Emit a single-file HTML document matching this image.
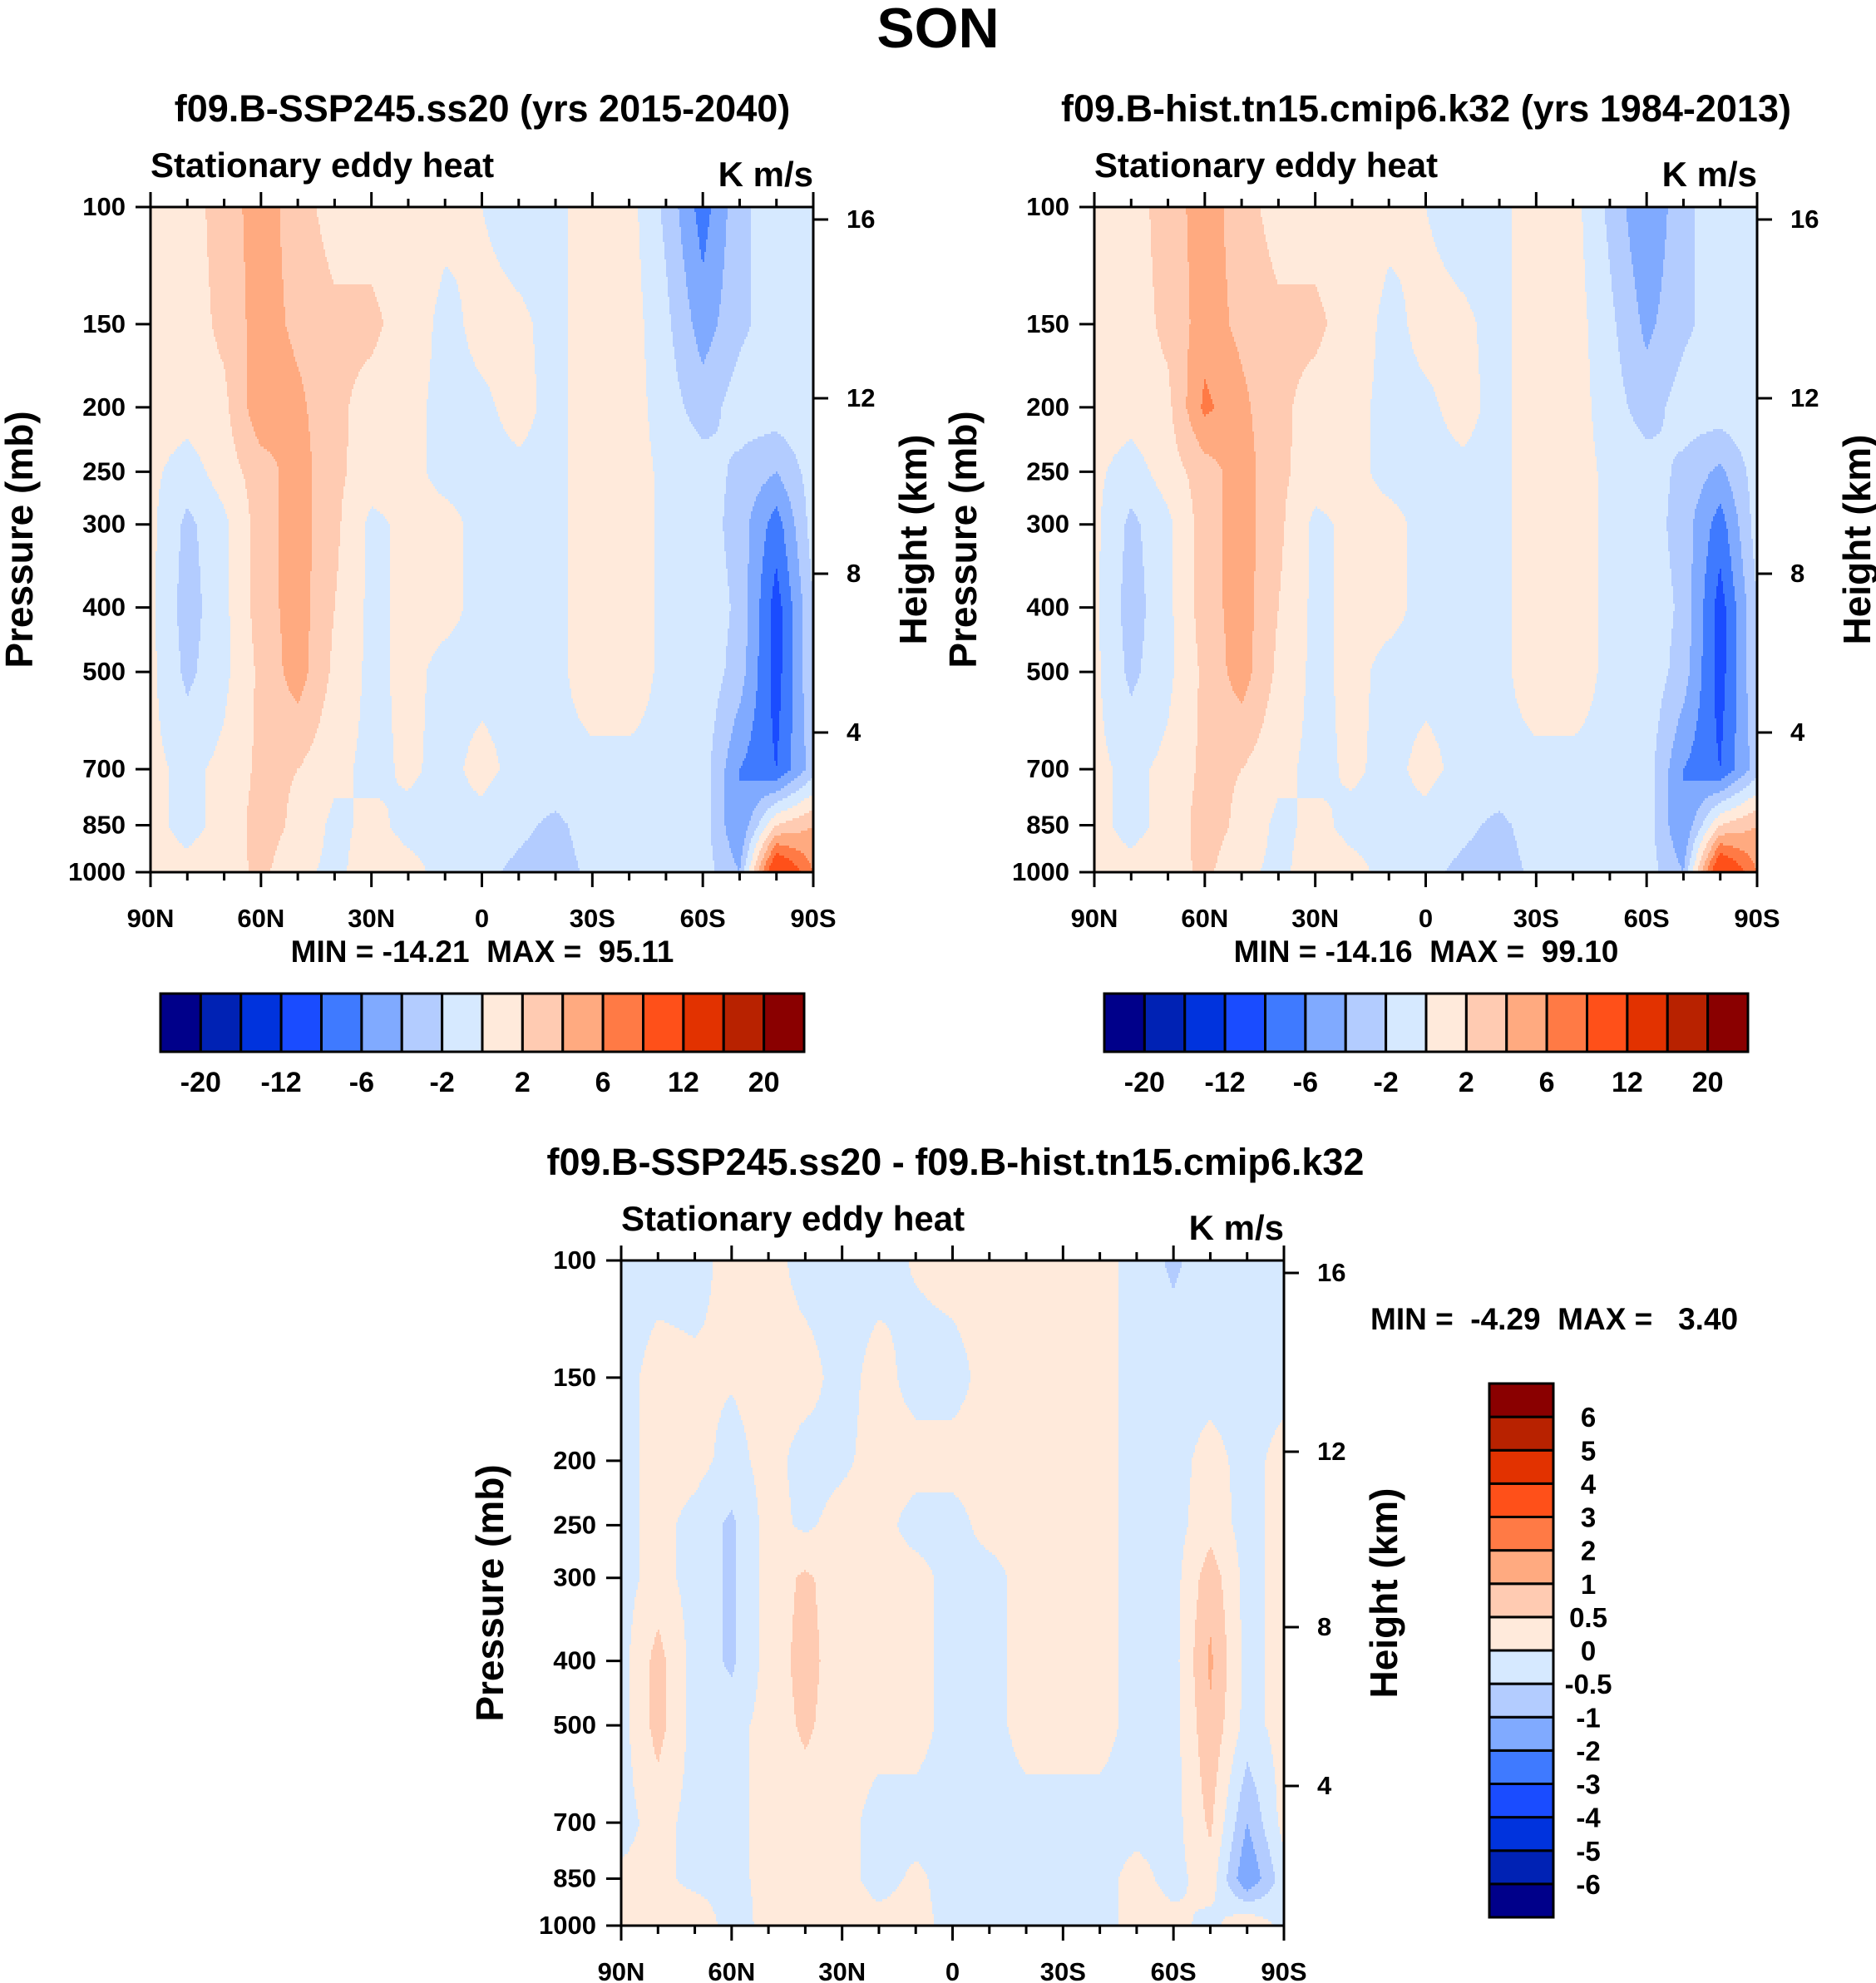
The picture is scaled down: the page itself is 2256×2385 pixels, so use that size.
<!DOCTYPE html>
<html><head><meta charset="utf-8">
<style>
html,body{margin:0;padding:0;background:#fff;}
svg{display:block;}
text{font-family:"Liberation Sans",Arial,sans-serif;font-weight:bold;fill:#000;white-space:pre;}
</style></head>
<body>
<svg id="fig" xmlns="http://www.w3.org/2000/svg" width="2256" height="2385" viewBox="0 0 2256 2385">
<rect x="0" y="0" width="2256" height="2385" fill="#fff"/>
<text x="1128" y="57" font-size="68" text-anchor="middle">SON</text>
<text x="580" y="146" font-size="45" text-anchor="middle">f09.B-SSP245.ss20 (yrs 2015-2040)</text>
<text x="1715" y="146" font-size="45" text-anchor="middle">f09.B-hist.tn15.cmip6.k32 (yrs 1984-2013)</text>
<text x="1149" y="1413" font-size="45" text-anchor="middle">f09.B-SSP245.ss20 - f09.B-hist.tn15.cmip6.k32</text>
<g id="p1"></g>
<g id="p2"></g>
<g id="p3"></g>
</svg>
<script>
const lats=[90,80,70,60,50,40,30,20,10,0,-10,-20,-30,-40,-50,-60,-70,-80,-90];
const latLabels=["90N","60N","30N","0","30S","60S","90S"];
const latTicks=[90,60,30,0,-30,-60,-90];
const plevs=[100,150,200,250,300,400,500,700,850,1000];
const presLabels=["100","150","200","250","300","400","500","700","850","1000"];
const heightLabels=["16","12","8","4"];
const heightOffsets=[15,230,441,632];
const fieldA=[
[1,1,3,5,3,1,1,1,0.5,0,-0.8,-0.5,1,0.8,-2.5,-7,-2.5,-0.8,-0.5],
[1,1,2.5,5,3.5,2.5,2.5,1,-0.5,0.5,0.3,-0.5,1,1,-1.5,-5,-2.5,-0.8,-0.5],
[1,1,1.5,5.5,4.5,2.5,1.2,0.5,-0.5,-0.3,0.5,-0.5,1,1,-1,-3,-1,-0.8,-0.5],
[0.5,-1,1,3,5,2.5,1,0.5,-0.5,-0.5,-0.3,-0.5,1,1,-0.5,-1,-2.5,-4,-1],
[0.5,-2.5,-0.5,3,5,2.5,-0.5,0.5,0.5,-0.5,-0.5,-0.5,1,1,-0.5,-0.8,-3,-7,-1],
[0.5,-3,-0.5,3,5,2,-0.5,0.5,0.5,-0.5,-0.5,-0.5,1,1,-0.5,-0.5,-2.5,-9,-2],
[0.5,-2.5,-0.5,2.5,5,1.5,-0.5,0.5,-0.5,-0.5,-0.5,-0.5,1,1,-0.5,-0.5,-3,-9,-2],
[0.5,-0.5,0.5,2.5,2,0.5,-0.5,0.3,-0.5,0.5,-0.5,-0.5,-0.5,-0.5,-0.5,-1,-6,-8,-3],
[0.5,-0.5,0.5,3,1.5,-0.5,0.5,-0.5,-0.5,-0.5,-1.5,-2.5,-1,-0.5,-0.5,-1,-6,2,4],
[0.5,0.5,1,2.5,0.5,-0.5,1,0.5,-0.5,-1.5,-2.5,-3,-1.5,-0.5,-0.5,-1,-4,12,6]];
const fieldB=[
[1,1,3,5,3,1,1,1,0.5,0,-0.8,-0.5,1,0.8,-2.5,-6,-2.5,-0.8,-0.5],
[1,1,2.5,5,3.5,2.5,2.5,1,-0.5,0.5,0.3,-0.5,1,1,-1.5,-4.5,-2.5,-0.8,-0.5],
[1,1,1.5,6.5,4.5,2.5,1.2,0.5,-0.5,-0.3,0.5,-0.5,1,1,-1,-3,-1,-0.8,-0.5],
[0.5,-1,1,3,5,2.5,1,0.5,-0.5,-0.5,-0.3,-0.5,1,1,-0.5,-1,-2.5,-4.5,-1],
[0.5,-2.5,-0.5,3,5,2.5,-0.5,0.5,0.5,-0.5,-0.5,-0.5,1,1,-0.5,-0.8,-3,-7,-1],
[0.5,-3,-0.5,3,5,2,-0.5,0.5,0.5,-0.5,-0.5,-0.5,1,1,-0.5,-0.5,-2.5,-9,-2],
[0.5,-2.5,-0.5,2.5,5,1.5,-0.5,0.5,-0.5,-0.5,-0.5,-0.5,1,1,-0.5,-0.5,-3,-9,-2],
[0.5,-0.5,0.5,2.5,2,0.5,-0.5,0.3,-0.5,0.5,-0.5,-0.5,-0.5,-0.5,-0.5,-1,-6,-8,-3],
[0.5,-0.5,0.5,3,1.5,-0.5,0.5,-0.5,-0.5,-0.5,-1.5,-2.5,-1,-0.5,-0.5,-1,-6,2,4],
[0.5,0.5,1,2.5,0.5,-0.5,1,0.5,-0.5,-1.5,-2.5,-3,-1.5,-0.5,-0.5,-1,-4,12,6]];
const fieldD=[
[-0.2,-0.2,-0.2,0.2,0.2,-0.2,-0.2,-0.2,0.05,0.2,0.2,0.2,0.2,0.2,-0.2,-0.6,-0.2,-0.2,-0.2],
[-0.2,0.2,0.1,0.05,0.2,0.2,-0.2,0.2,-0.2,-0.2,0.2,0.2,0.2,0.2,-0.2,-0.2,-0.2,-0.2,-0.2],
[-0.2,0.2,0.2,-0.2,0.2,-0.2,-0.1,0.2,0.2,0.2,0.2,0.2,0.2,0.2,-0.2,-0.2,0.2,-0.2,0.2],
[-0.2,0.2,-0.2,-0.6,0.2,-0.1,0.2,0.2,-0.2,-0.2,0.2,0.2,0.2,0.2,-0.2,-0.2,0.3,-0.2,0.2],
[-0.2,0.2,-0.2,-0.6,0.2,0.6,0.2,0.2,0.2,-0.2,-0.2,0.2,0.2,0.2,-0.2,-0.2,0.8,-0.2,0.2],
[-0.2,0.7,-0.2,-0.6,0.2,0.7,0.2,0.2,0.2,-0.2,-0.2,0.2,0.2,0.2,-0.2,-0.2,1.1,-0.2,0.2],
[-0.2,0.7,-0.2,-0.2,0.2,0.6,0.2,0.2,0.2,-0.2,-0.2,0.2,0.2,0.2,-0.2,-0.2,0.9,-0.2,0.2],
[-0.2,0.2,-0.2,-0.2,0.2,0.2,0.2,-0.2,-0.2,-0.2,-0.2,-0.2,-0.2,-0.2,-0.2,-0.2,0.6,-1,0.2],
[0.1,0.2,-0.2,-0.2,0.2,0.2,0.2,-0.2,0.1,-0.2,-0.2,-0.2,-0.2,-0.2,0.2,-0.2,0.3,-1.5,-0.2],
[0.2,0.3,0.5,-0.3,0.2,0.2,0.2,0.2,0.2,-0.2,-0.2,-0.2,-0.2,-0.2,0.2,0.2,-0.2,0.5,-0.2]];
const levelsAB=[-20,-16,-12,-8,-6,-4,-2,0,2,4,6,8,12,16,20];
const levelsD=[-6,-5,-4,-3,-2,-1,-0.5,0,0.5,1,2,3,4,5,6];
const cbLabelsAB=["-20","-12","-6","-2","2","6","12","20"];
const cbLabelsD=["6","5","4","3","2","1","0.5","0","-0.5","-1","-2","-3","-4","-5","-6"];
const colors=["#00008a","#0022b4","#0033dd","#1a4cff","#3f7aff","#80aaff","#b3ccff","#d6e9ff","#ffeadb","#ffcbb2","#ffaa80","#ff7a45","#ff5019","#e23200","#b82200","#8a0000"];

const NS="http://www.w3.org/2000/svg";
function mk(tag,attrs,parent){const e=document.createElementNS(NS,tag);for(const k in attrs)e.setAttribute(k,attrs[k]);parent.appendChild(e);return e;}
function classify(v,levels){let i=0;while(i<levels.length&&v>=levels[i])i++;return i;}
function sample(field,lat,p){
  let fi=(90-lat)/10; if(fi<0)fi=0; if(fi>18)fi=18;
  const i0=Math.min(17,Math.floor(fi)), tx=fi-i0;
  const lp=Math.log10(p); let j0=0;
  while(j0<plevs.length-2&&Math.log10(plevs[j0+1])<lp)j0++;
  const a=Math.log10(plevs[j0]),b=Math.log10(plevs[j0+1]);
  let ty=(lp-a)/(b-a); ty=Math.max(0,Math.min(1,ty));
  const v00=field[j0][i0],v01=field[j0][i0+1],v10=field[j0+1][i0],v11=field[j0+1][i0+1];
  return (v00*(1-tx)+v01*tx)*(1-ty)+(v10*(1-tx)+v11*tx)*ty;
}
function addCell(parent,x,y,w,h,c){
  const r=mk('rect',{x:x,y:y,width:w+0.6,height:h+0.6,fill:colors[c]},parent);
  
  
}
function panel(g,ox,oy,w,h,field,levels,prefix){
  const xS=lat=>ox+(90-lat)/180*w;
  const yS=p=>oy+Math.log10(p/100)*h;
  const latOf=x=>90-(x-ox)/w*180;
  const pOf=y=>100*Math.pow(10,(y-oy)/h);
  const fill=mk('g',{},g);
  
  
  const dy=3,dx=2;
  for(let y=oy;y<oy+h;y+=dy){
    const hh=Math.min(dy,oy+h-y);
    const p=pOf(y+hh/2);let start=ox,cur=-1,x;
    for(x=ox;x<ox+w;x+=dx){
      const c=classify(sample(field,latOf(Math.min(x+dx/2,ox+w)),p),levels);
      if(c!==cur){
        if(cur>=0)addCell(fill,start,y,x-start,hh,cur);
        cur=c;start=x;}
    }
    if(cur>=0)addCell(fill,start,y,ox+w-start,hh,cur);
  }
  const ax=mk('g',{stroke:'#000','stroke-width':3,fill:'none'},g);
  
  
  mk('rect',{x:ox,y:oy,width:w,height:h},ax);
  for(let lat=90;lat>=-90;lat-=10){
    const x=xS(lat),big=(lat%30===0);const L=big?18:10;
    mk('line',{x1:x,y1:oy,x2:x,y2:oy-L},ax);
    mk('line',{x1:x,y1:oy+h,x2:x,y2:oy+h+L},ax);
  }
  plevs.forEach((p,i)=>{const y=yS(p);mk('line',{x1:ox,y1:y,x2:ox-18,y2:y},ax);
    const t=mk('text',{x:ox-30,y:y+10,'font-size':31,'text-anchor':'end'},g);t.textContent=presLabels[i];
    
    });
  heightLabels.forEach((s,i)=>{const y=oy+heightOffsets[i];mk('line',{x1:ox+w,y1:y,x2:ox+w+18,y2:y},ax);
    const t=mk('text',{x:ox+w+40,y:y+10,'font-size':31},g);t.textContent=s;
    
    });
  latTicks.forEach((lat,i)=>{const t=mk('text',{x:xS(lat),y:oy+h+66,'font-size':31,'text-anchor':'middle'},g);t.textContent=latLabels[i];
    
    });
  const st=mk('text',{x:ox,y:oy-36,'font-size':42},g);st.textContent='Stationary eddy heat';
  
  
  const un=mk('text',{x:ox+w,y:oy-25,'font-size':42,'text-anchor':'end'},g);un.textContent='K m/s';
  
  
  const yl=mk('text',{x:0,y:0,'font-size':46,'text-anchor':'middle',transform:`translate(${ox-142},${oy+400}) rotate(-90)`},g);yl.textContent='Pressure (mb)';
  
  
  const hl=mk('text',{x:0,y:0,'font-size':46,'text-anchor':'middle',transform:`translate(${ox+w+136},${oy+400}) rotate(-90)`},g);hl.textContent='Height (km)';
  
  
}
function hbar(g,x0,y0,w,h,labels){
  const bw=w/16;
  colors.forEach((c,i)=>{const r=mk('rect',{x:x0+i*bw,y:y0,width:bw,height:h,fill:c,stroke:'#000','stroke-width':3},g);
    
    });
  labels.forEach((s,k)=>{const t=mk('text',{x:x0+(2*k+1)*bw,y:y0+h+48,'font-size':34,'text-anchor':'middle'},g);t.textContent=s;
    
    });
}
function vbar(g,x0,y0,w,h,labels){
  const bh=h/16;
  colors.forEach((c,i)=>{const r=mk('rect',{x:x0,y:y0+(15-i)*bh,width:w,height:bh,fill:c,stroke:'#000','stroke-width':3},g);
    
    });
  labels.forEach((s,k)=>{const t=mk('text',{x:x0+w+42,y:y0+(k+1)*bh+12,'font-size':33,'text-anchor':'middle'},g);t.textContent=s;
    
    });
}
function minmax(g,x,y,s,anchor){const t=mk('text',{x:x,y:y,'font-size':37,'text-anchor':anchor},g);t.textContent=s;
  
  }
const p1=document.getElementById('p1'),p2=document.getElementById('p2'),p3=document.getElementById('p3');
panel(p1,181,249,797,800,fieldA,levelsAB,'panel1');
panel(p2,1316,249,797,800,fieldB,levelsAB,'panel2');
panel(p3,747,1516,797,800,fieldD,levelsD,'panel3');
minmax(p1,580,1157,'MIN = -14.21  MAX =  95.11','middle');
minmax(p2,1715,1157,'MIN = -14.16  MAX =  99.10','middle');
minmax(p3,1648,1599,'MIN =  -4.29  MAX =   3.40','start');
hbar(p1,193,1195,774,70,cbLabelsAB);
hbar(p2,1328,1195,774,70,cbLabelsAB);
vbar(p3,1791,1664,77,642,cbLabelsD);
</script>
</body></html>
